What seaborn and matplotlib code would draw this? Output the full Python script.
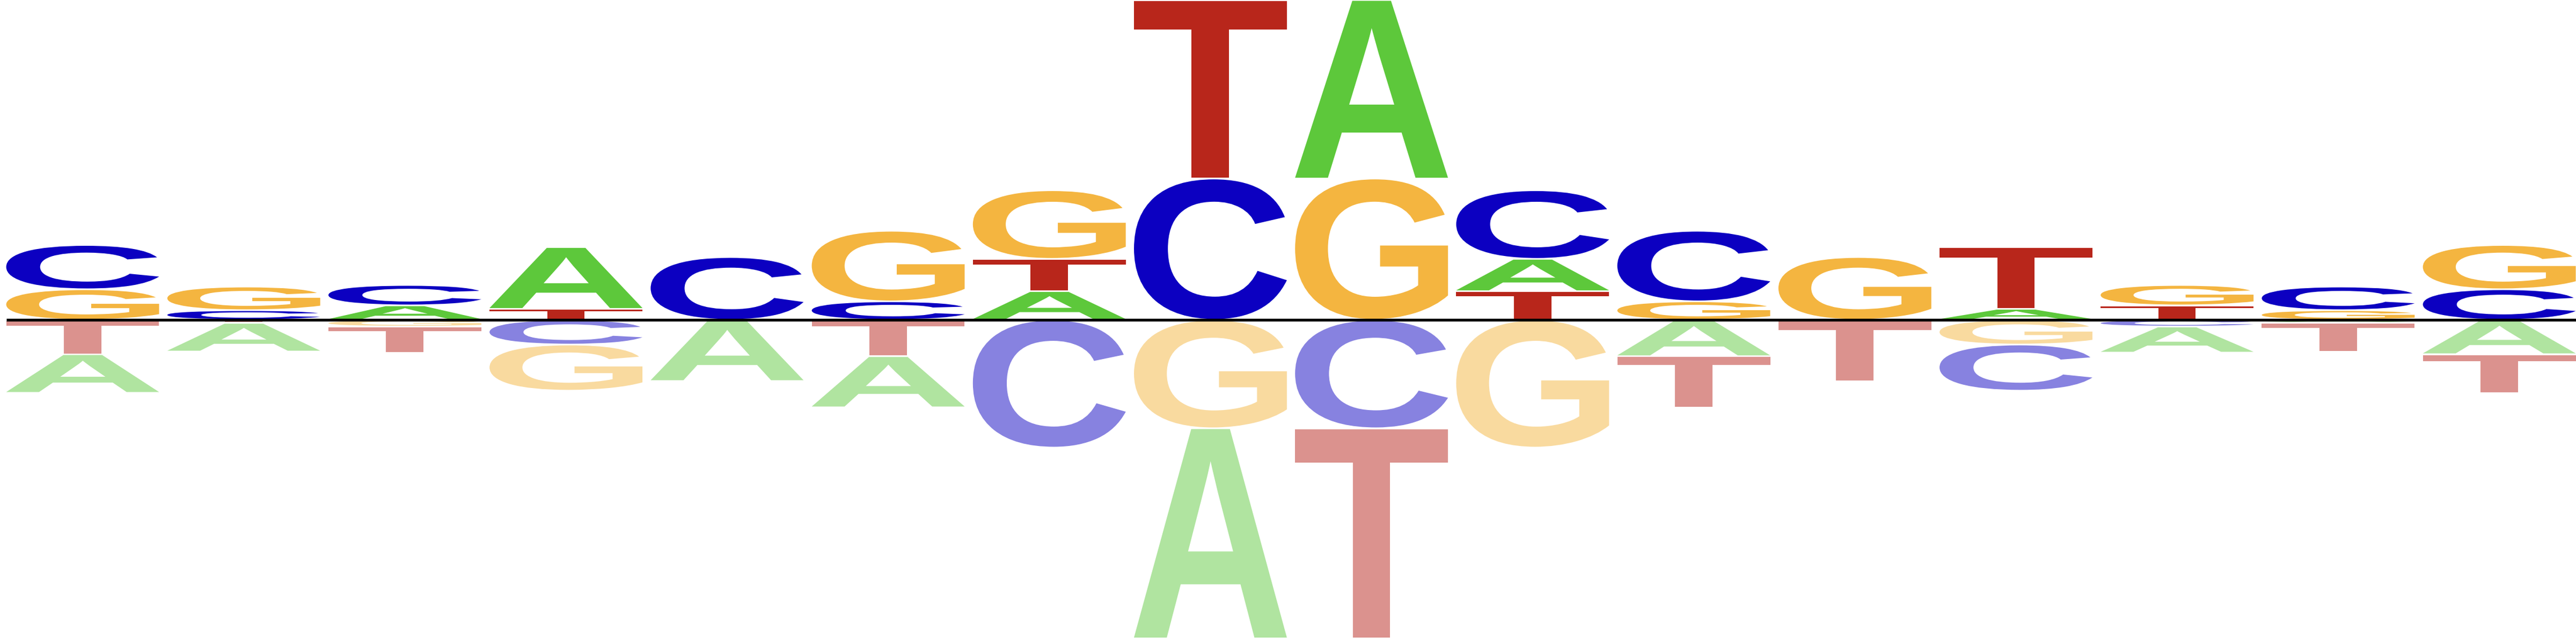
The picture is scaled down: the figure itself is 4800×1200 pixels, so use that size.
import numpy as np
import pandas as pd
import seaborn as sns
import matplotlib
matplotlib.use("Agg")
import matplotlib.pyplot as plt
from matplotlib.textpath import TextPath
from matplotlib.font_manager import FontProperties
from matplotlib.patches import PathPatch
from matplotlib.transforms import Affine2D

# ---- data (letter heights per position; positive above, negative below the baseline) ----
positions = list(range(16))
letters = ["A", "C", "G", "T"]

pos_A = [0, 0, 0.27, 1.15, 0, 0, 0.535, 0, 3.327, 0.602, 0, 0, 0.205, 0, 0, 0]
pos_C = [0.825, 0.18, 0.38, 0, 1.17, 0.345, 0, 2.633, 0, 1.278, 1.315, 0, 0, 0, 0.44, 0.57]
pos_G = [0.57, 0.44, 0, 0, 0, 1.315, 1.278, 0, 2.633, 0, 0.345, 1.17, 0, 0.38, 0.18, 0.825]
pos_T = [0, 0, 0, 0.205, 0, 0, 0.602, 3.327, 0, 0.535, 0, 0, 1.15, 0.27, 0, 0]

neg_A = [-0.72, -0.533, 0, 0, -1.14, -0.953, 0, -3.915, 0, 0, -0.677, 0, 0, -0.485, -0.057, -0.64]
neg_C = [0, 0, 0, -0.46, 0, 0, -2.38, 0, -2.02, 0, 0, 0, -0.86, -0.125, 0, 0]
neg_G = [0, 0, -0.125, -0.86, 0, 0, 0, -2.02, 0, -2.38, 0, 0, -0.46, 0, 0, 0]
neg_T = [-0.64, -0.057, -0.485, 0, 0, -0.677, 0, 0, -3.915, 0, -0.953, -1.14, 0, 0, -0.533, -0.72]

pos_colors = {"A": "#5dc83b", "C": "#0c00c1", "G": "#f4b540", "T": "#b8261b"}
neg_colors = {"A": "#b0e4a0", "C": "#8782e0", "G": "#f9da9f", "T": "#db928e"}

df = pd.DataFrame({
    "pos": np.repeat(positions, 4),
    "letter": letters * len(positions),
})
pos_vals = dict(A=pos_A, C=pos_C, G=pos_G, T=pos_T)
neg_vals = dict(A=neg_A, C=neg_C, G=neg_G, T=neg_T)
df["up"] = [pos_vals[l][p] for p, l in zip(df["pos"], df["letter"])]
df["down"] = [neg_vals[l][p] for p, l in zip(df["pos"], df["letter"])]

# ---- plot ----
sns.set_theme(style="white")
fig = plt.figure(figsize=(48, 12), dpi=100)
ax = fig.add_axes([0, 0, 1, 1])
ax.set_xlim(-0.513, 15.476)
ax.set_ylim(-6.04, 5.96)
ax.set_axis_off()

fp = FontProperties(family="Liberation Sans", weight="bold")
glyphs = {l: TextPath((0, 0), l, size=1, prop=fp) for l in letters}

width = 0.949
inset = 0.015


def draw_letter(letter, xc, y0, h, color):
    path = glyphs[letter]
    ext = path.get_extents()
    gh = abs(h) - 2 * inset
    if gh <= 0:
        return
    bottom = min(y0, y0 + h) + inset
    tr = (Affine2D()
          .translate(-ext.x0, -ext.y0)
          .scale(width / ext.width, gh / ext.height)
          .translate(xc - width / 2, bottom))
    ax.add_patch(PathPatch(tr.transform_path(path), facecolor=color,
                           edgecolor="none", lw=0))


for p, grp in df.groupby("pos"):
    up = grp[grp["up"] > 0].sort_values("up")
    y = 0.0
    for _, r in up.iterrows():
        draw_letter(r["letter"], p, y, r["up"], pos_colors[r["letter"]])
        y += r["up"]
    dn = grp[grp["down"] < 0].sort_values("down", ascending=False)
    y = 0.0
    for _, r in dn.iterrows():
        draw_letter(r["letter"], p, y, r["down"], neg_colors[r["letter"]])
        y += r["down"]

ax.plot([positions[0] - width / 2, positions[-1] + width / 2], [0, 0],
        color="black", lw=3.8, solid_capstyle="butt", zorder=5)

fig.savefig("out.png", dpi=100, facecolor="white")
